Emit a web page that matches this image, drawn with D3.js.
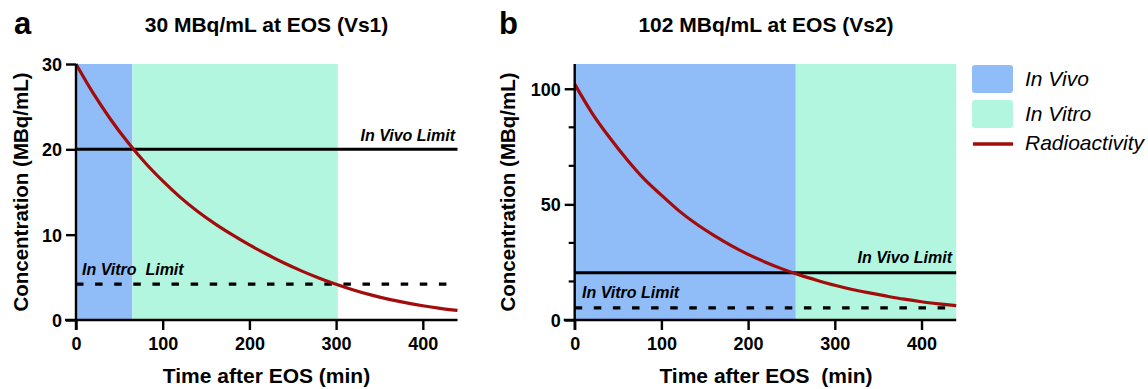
<!DOCTYPE html>
<html lang="en">
<head>
<meta charset="UTF-8">
<title>Radioactivity decay vs limits</title>
<script src="https://d3js.org/d3.v7.min.js"></script>
<style>
  body { margin: 0; background: #fff; }
  text { font-family: "Liberation Sans", Arial, sans-serif; fill: #000; }
</style>
</head>
<body>
<div id="chart"></div>
<script>
// ---- data ----
const timeA = [0, 20, 40, 60, 80, 100, 120, 140, 160, 180, 200, 220, 240, 260, 280, 300, 320, 340, 360, 380, 400, 420, 440];
const concA = [30, 26.55, 23.5, 20.8, 18.4, 16.3, 14.4, 12.75, 11.3, 10.0, 8.8, 7.7, 6.68, 5.76, 4.93, 4.19, 3.52, 2.94, 2.44, 2.03, 1.67, 1.37, 1.12];
const timeB = [0, 20, 40, 60, 80, 100, 120, 140, 160, 180, 200, 220, 240, 260, 280, 300, 320, 340, 360, 380, 400, 420, 440];
const concB = [102, 89.5, 79, 69.5, 61, 54, 47.3, 41.6, 36.7, 32.3, 28.4, 25, 22, 19.4, 17.1, 15.0, 13.2, 11.7, 10.3, 9.0, 7.9, 7.0, 6.2];

const vivoWindowA = [0, 65];
const vitroWindowA = [65, 302];
const vivoWindowB = [0, 255];
const vitroWindowB = [255, 440];

const vivoLimitA = 20, vitroLimitA = 4.2;
const vivoLimitB = 20.4, vitroLimitB = 5.2;

const xTicks = [0, 100, 200, 300, 400];
const yTicksA = [0, 10, 20, 30];
const yTicksB = [0, 50, 100];
const yMinorB = [50 / 3, 100 / 3, 200 / 3, 250 / 3];

const legendLabels = ['In Vivo', 'In Vitro', 'Radioactivity'];

const colVivo = '#90bdf8', colVitro = '#b3f6df', colRed = '#a30c0c';

const width = 1148, height = 389;
const svg = d3.select('#chart').append('svg')
  .attr('width', width).attr('height', height);

function drawPanel(p) {
  const x = d3.scaleLinear().domain([0, 440]).range([p.left, p.left + 381.5]);
  const y = d3.scaleLinear().domain([0, p.yMax]).range([320, 64]);
  const g = svg.append('g');

  // shaded windows
  g.append('rect')
    .attr('x', x(p.vivo[0])).attr('width', x(p.vivo[1]) - x(p.vivo[0]))
    .attr('y', y(p.yMax)).attr('height', y(0) - y(p.yMax))
    .attr('fill', colVivo);
  g.append('rect')
    .attr('x', x(p.vitro[0])).attr('width', x(p.vitro[1]) - x(p.vitro[0]))
    .attr('y', y(p.yMax)).attr('height', y(0) - y(p.yMax))
    .attr('fill', colVitro);

  // limits
  g.append('line')
    .attr('x1', x(0)).attr('x2', x(440))
    .attr('y1', y(p.vivoLimit)).attr('y2', y(p.vivoLimit))
    .attr('stroke', '#000').attr('stroke-width', 3);
  g.append('line')
    .attr('x1', x(0)).attr('x2', x(434))
    .attr('y1', y(p.vitroLimit)).attr('y2', y(p.vitroLimit))
    .attr('stroke', '#000').attr('stroke-width', 3.2)
    .attr('stroke-dasharray', '7.5,11.6');

  // decay curve
  g.append('path')
    .datum(d3.zip(p.time, p.conc))
    .attr('fill', 'none')
    .attr('stroke', colRed)
    .attr('stroke-width', 3.2)
    .attr('d', d3.line().curve(d3.curveMonotoneX)
      .x(d => x(d[0])).y(d => y(d[1])));

  // axes
  const xAxis = g.append('g')
    .attr('transform', `translate(0,${y(0)})`)
    .call(d3.axisBottom(x).tickValues(xTicks).tickSize(10).tickPadding(6).tickSizeOuter(0));
  xAxis.select('.domain').attr('d', `M${p.left - 11},0H${x(440)}`);
  const yAxis = g.append('g')
    .attr('transform', `translate(${x(0)},0)`)
    .call(d3.axisLeft(y).tickValues(p.yTicks).tickSize(10).tickPadding(4).tickSizeOuter(0));
  yAxis.select('.domain').attr('d', `M0,${y(0) + 10}V${y(p.yMax)}`);
  if (p.yMinor) {
    yAxis.selectAll('.minor').data(p.yMinor).enter().append('line')
      .attr('class', 'minor')
      .attr('x1', -6).attr('x2', 0)
      .attr('y1', d => y(d)).attr('y2', d => y(d))
      .attr('stroke', '#000').attr('stroke-width', 2.2);
  }
  [xAxis, yAxis].forEach(a => {
    a.selectAll('.domain, .tick line').attr('stroke', '#000').attr('stroke-width', 2.4);
    a.selectAll('.tick text')
      .style('font-family', '"Liberation Sans", Arial, sans-serif')
      .style('font-size', '18px').style('font-weight', 'bold').attr('fill', '#000');
  });
  yAxis.selectAll('.tick text').attr('dy', '0.36em');
  xAxis.selectAll('.tick text').attr('dy', '0.75em');

  // limit labels
  g.append('text')
    .attr('x', p.vivoLabel[0]).attr('y', p.vivoLabel[1])
    .attr('text-anchor', 'end')
    .style('font-size', '16px').style('font-weight', 'bold').style('font-style', 'italic')
    .text('In Vivo Limit');
  g.append('text')
    .attr('x', p.vitroLabel[0]).attr('y', p.vitroLabel[1])
    .style('font-size', '16px').style('font-weight', 'bold').style('font-style', 'italic')
    .style('white-space', 'pre')
    .text(p.vitroText);

  // titles
  g.append('text')
    .attr('x', p.titleX).attr('y', 32).attr('text-anchor', 'middle')
    .style('font-size', '21px').style('font-weight', 'bold')
    .text(p.title);
  g.append('text')
    .attr('x', p.letterX).attr('y', 34)
    .style('font-size', '31px').style('font-weight', 'bold')
    .text(p.letter);
  g.append('text')
    .attr('x', p.titleX).attr('y', 383).attr('text-anchor', 'middle')
    .style('font-size', '21px').style('font-weight', 'bold')
    .style('white-space', 'pre')
    .text(p.xTitle);
  g.append('text')
    .attr('transform', `translate(${p.yTitleX},192) rotate(-90)`)
    .attr('text-anchor', 'middle')
    .style('font-size', '20.5px').style('font-weight', 'bold')
    .text('Concentration (MBq/mL)');
}

drawPanel({
  left: 76, yMax: 30, yTicks: yTicksA,
  time: timeA, conc: concA, vivo: vivoWindowA, vitro: vitroWindowA,
  vivoLimit: vivoLimitA, vitroLimit: vitroLimitA,
  vivoLabel: [455, 141], vitroLabel: [82, 275], vitroText: 'In Vitro  Limit',
  title: '30 MBq/mL at EOS (Vs1)', titleX: 266.5, letter: 'a', letterX: 14,
  xTitle: 'Time after EOS (min)', yTitleX: 28
});
drawPanel({
  left: 574.7, yMax: 110.7, yTicks: yTicksB, yMinor: yMinorB,
  time: timeB, conc: concB, vivo: vivoWindowB, vitro: vitroWindowB,
  vivoLimit: vivoLimitB, vitroLimit: vitroLimitB,
  vivoLabel: [952, 263], vitroLabel: [582, 298], vitroText: 'In Vitro Limit',
  title: '102 MBq/mL at EOS (Vs2)', titleX: 766, letter: 'b', letterX: 499,
  xTitle: 'Time after EOS  (min)', yTitleX: 515
});

// legend
const legend = svg.append('g');
const swatches = [colVivo, colVitro];
legend.selectAll('rect').data(swatches).enter().append('rect')
  .attr('x', 972).attr('y', (d, i) => 65 + i * 35)
  .attr('width', 41).attr('height', 28).attr('rx', 3)
  .attr('fill', d => d);
legend.append('line')
  .attr('x1', 973).attr('x2', 1013).attr('y1', 144).attr('y2', 144)
  .attr('stroke', colRed).attr('stroke-width', 3.5);
legend.selectAll('text').data(legendLabels).enter().append('text')
  .attr('x', 1025).attr('y', (d, i) => [86, 120.5, 150][i])
  .style('font-size', '21px').style('font-style', 'italic')
  .text(d => d);
</script>
</body>
</html>
